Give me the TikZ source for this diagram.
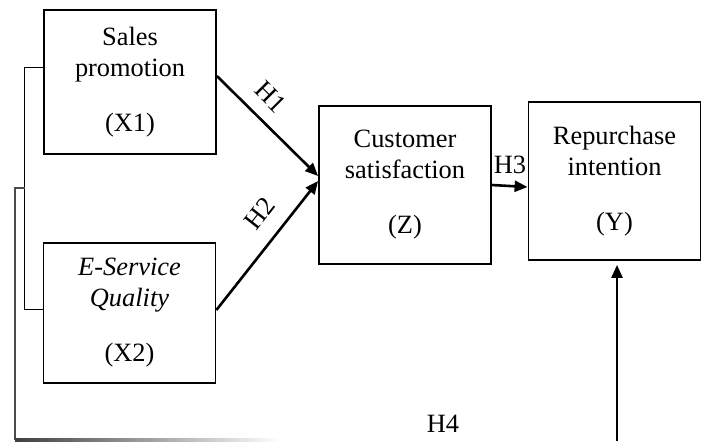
\documentclass[tikz,border=0pt]{standalone}
\usepackage{fontspec}
\setmainfont{Liberation Serif}
\usetikzlibrary{calc,positioning,arrows.meta}

\begin{document}
\begin{tikzpicture}[x=0.5pt, y=-0.5pt,
    varbox/.style={draw, line width=0.9pt, minimum width=86pt, align=center,
      font=\fontsize{13.2}{15.5}\selectfont},
    hyp/.style={line width=1.3pt, -{Triangle[length=6.5pt,width=5.5pt]}},
    lbl/.style={font=\fontsize{13.2}{15.5}\selectfont, inner sep=0pt},
    bracket/.style={line width=0.5pt},
  ]
  \useasboundingbox (0,0) rectangle (705,441);
  % variables
  \node[varbox, minimum height=72pt] (sp) at (130,82) {Sales\\promotion\\[12pt](X1)};
  \node[varbox, minimum height=70pt] (esq) at (129.5,313) {\textit{E-Service}\\\textit{Quality}\\[12pt](X2)};
  \node[varbox, minimum height=79pt] (cs) at (405,185) {Customer\\satisfaction\\[12pt](Z)};
  \node[varbox, minimum height=79pt] (ri) at (614.5,181) {Repurchase\\intention\\[12pt](Y)};
  % hypotheses
  \draw[hyp] ($(sp.east)+(0,-6)$) -- ($(cs.west)+(0,-9)$);
  \draw[hyp] ($(esq.east)+(0,-3)$) -- ($(cs.west)+(0,-4)$);
  \draw[hyp] (cs.east) -- ($(ri.west)+(0,6)$);
  \node[lbl, rotate=-45] (h1) at (271,97) {H1};
  \node[lbl, rotate=52] (h2) at (260,213) {H2};
  \node[lbl] (h3) at (510,165) {H3};
  \node[lbl] (h4) at (443,424) {H4};
  % joint path of X1 and X2
  \coordinate (tick) at (25,188);
  \draw[bracket] ($(sp.west)+(0,-15)$) -- ++(-19,0) |- ($(esq.west)+(0,-4)$);
  \draw[line width=0.9pt, black!70] (tick) -- (15,188) -- (15,440);
  \shade[left color=black!75, right color=white] (15,438.5) rectangle (280,441);
  \coordinate (yin) at (617,441);
  \draw[hyp] (yin) -- ($(yin |- ri.south)+(0,4)$);
\end{tikzpicture}
\end{document}
